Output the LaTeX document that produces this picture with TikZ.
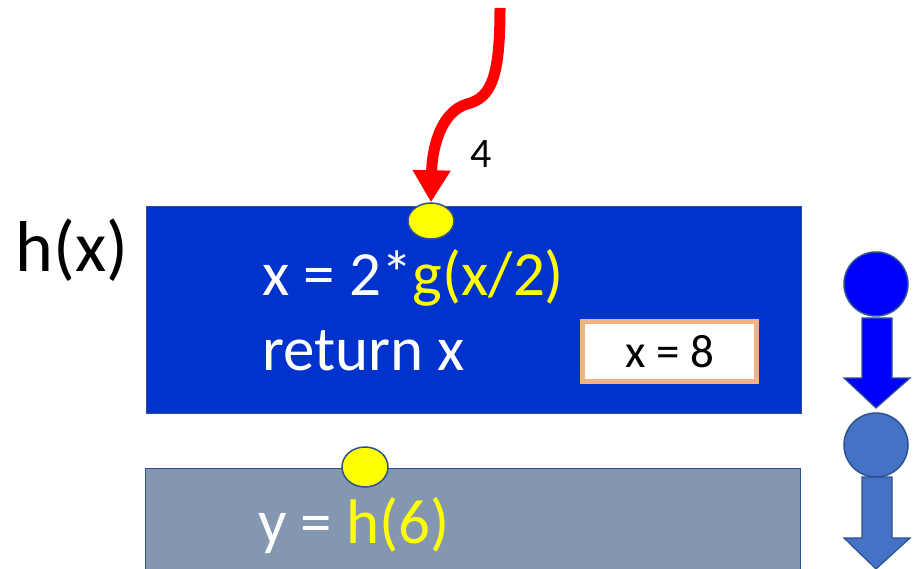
\documentclass[tikz,border=0pt]{standalone}
\usepackage{fontspec}
\setmainfont{Carlito}
\usetikzlibrary{arrows.meta,calc,positioning,shapes.geometric}
\definecolor{frameblue}{RGB}{0,51,204}
\definecolor{callgray}{RGB}{132,151,176}
\definecolor{edgeblue}{RGB}{47,82,143}
\definecolor{hlyellow}{RGB}{255,255,0}
\definecolor{peach}{RGB}{244,177,131}
\definecolor{stackblue}{RGB}{0,0,255}
\definecolor{stacklight}{RGB}{68,114,196}
\begin{document}
\begin{tikzpicture}[x=1pt,y=-1pt,
  frame/.style={draw=edgeblue,line width=1.2pt,anchor=north west,inner sep=0pt},
  code/.style={anchor=base west,text=white,font=\fontsize{63}{70}\selectfont,inner sep=0pt},
  dot/.style={ellipse,draw=edgeblue,line width=1.5pt,fill=hlyellow,inner sep=0pt},
  ball/.style={circle,draw=edgeblue,line width=1.5pt,minimum size=64pt,inner sep=0pt},
  blockarr/.style={draw=edgeblue,line width=1.2pt,line join=miter}]
\useasboundingbox (0,0) rectangle (918,569);

% caller frame and callee frame
\node[frame,fill=frameblue,minimum width=655pt,minimum height=207pt] (hbox) at (146,206) {};
\node[frame,fill=callgray,minimum width=655pt,minimum height=110pt] (ybox) at (145,468) {};
\node[anchor=base,font=\fontsize{72}{80}\selectfont,inner sep=0pt] (hname) at (72,272) {h(x)};

\node[code] (line1) at (262,295) {x = 2*\textcolor{hlyellow}{g(x/2)}};
\node[code] (line2) at (262,370) {return x};
\node[code] (line3) at (258,543) {y = \textcolor{hlyellow}{h(6)}};

% local variable
\node[draw=peach,line width=5pt,fill=white,minimum width=174pt,minimum height=60pt,
      font=\fontsize{47}{52}\selectfont] (xval) at (669.5,351.5) {x = 8};

% return points
\node[dot,minimum width=46pt,minimum height=36pt] (hret) at (431,221) {};
\node[dot,minimum width=46pt,minimum height=40pt] (yret) at (365,467) {};

% returned value
\coordinate (src) at (500,8);
\draw[red,line width=11pt,-{Triangle[length=32pt,width=36pt]}]
  (src) .. controls (500,75) and (492,98) .. (467,104)
        .. controls (440,112) and (432,150) .. (hret.north);
\node[font=\fontsize{42}{46}\selectfont,inner sep=0pt,anchor=base] (retval) at (481,168) {4};

% call stack
\node[ball,fill=stackblue] (top) at (876,284) {};
\node[ball,fill=stacklight] (below) at (876,445) {};
\draw[blockarr,fill=stackblue] (862,318) -- (892,318) -- (892,378) -- (910,378)
  -- (876,408) -- (844,378) -- (862,378) -- cycle;
\draw[blockarr,fill=stacklight] (862,477) -- (892,477) -- (892,538) -- (910,538)
  -- (876,569) -- (844,538) -- (862,538) -- cycle;
\end{tikzpicture}
\end{document}
